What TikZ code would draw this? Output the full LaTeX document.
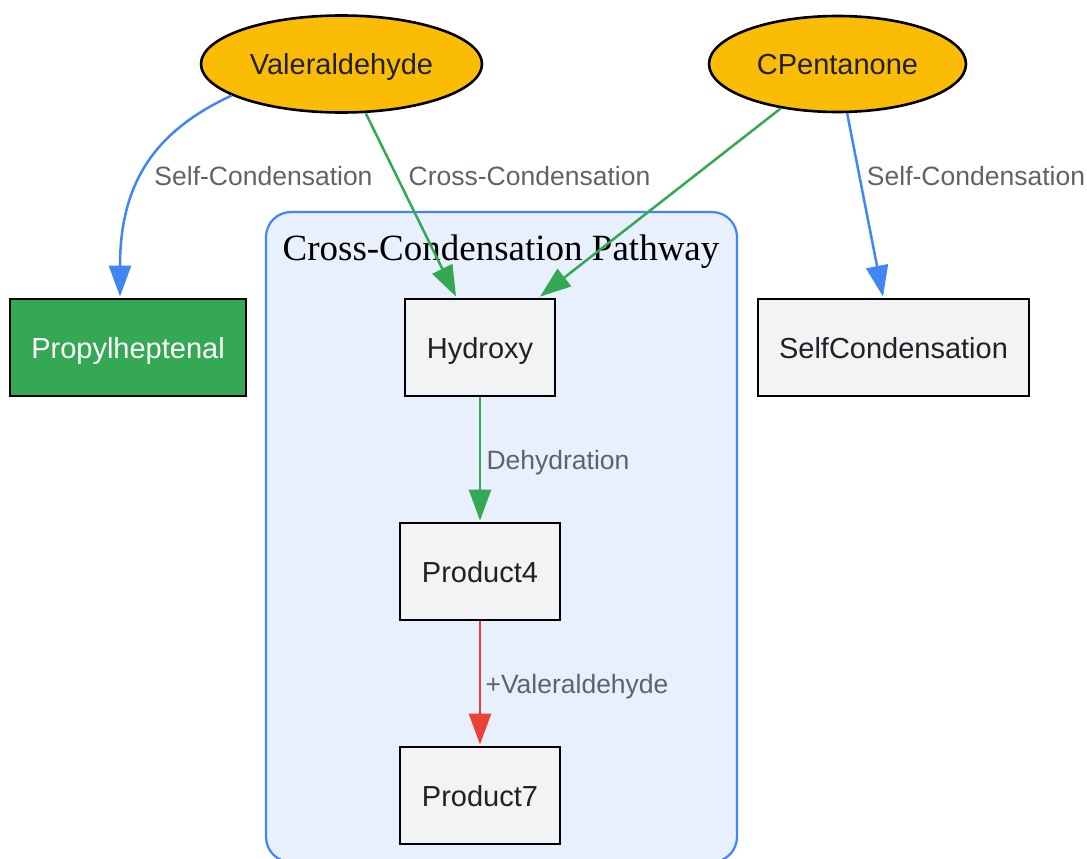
\documentclass[tikz,border=0pt]{standalone}
\usepackage{fontspec}
\setmainfont{Liberation Serif}
\newfontfamily\lsans{Liberation Sans}
\usetikzlibrary{arrows.meta,shapes.geometric}
\definecolor{gyellow}{HTML}{FBBC05}
\definecolor{ggreen}{HTML}{34A853}
\definecolor{gblue}{HTML}{4285F4}
\definecolor{gred}{HTML}{EA4335}
\definecolor{ggray}{HTML}{F1F3F4}
\definecolor{gtext}{HTML}{202124}
\definecolor{glabel}{HTML}{5F6368}
\definecolor{gcluster}{HTML}{E8F0FD}
\tikzset{
  src/.style={ellipse, draw=black, line width=2.6pt, fill=gyellow, inner sep=0pt,
    minimum width=281pt, minimum height=97pt, text=gtext, text height=21pt, text depth=0pt,
    font=\lsans\fontsize{29}{34}\selectfont},
  box/.style={rectangle, draw=black, line width=2.8pt, fill=ggray, inner sep=0pt,
    minimum height=97pt, text=gtext, text height=21pt, text depth=0pt,
    font=\lsans\fontsize{29}{34}\selectfont},
  elabel/.style={text=glabel, inner sep=0pt, anchor=base, font=\lsans\fontsize{26.5}{31}\selectfont},
  conn/.style={line width=2.5pt, -{Triangle[length=31pt,width=22pt]}},
}
\begin{document}
\begin{tikzpicture}[x=1pt,y=-1pt]
\useasboundingbox (0,0) rectangle (1087,859);
% cluster
\node[draw=gblue, line width=2.2pt, fill=gcluster, rounded corners=25pt, inner sep=0pt,
  minimum width=471pt, minimum height=650pt] (clu) at (501.5,537) {};
\node[anchor=base, inner sep=0pt, font=\fontsize{37}{44}\selectfont, text=black] (ttl) at (501,260) {Cross-Condensation Pathway};
% nodes
\node[src] (val) at (341.5,64) {Valeraldehyde};
\node[src, minimum width=257pt, minimum height=96pt] (cpe) at (837.5,64) {CPentanone};
\node[box, fill=ggreen, text=white, minimum width=236pt] (prop) at (128,347.5) {Propylheptenal};
\node[box, minimum width=150pt] (hyd) at (480,347.5) {Hydroxy};
\node[box, minimum width=271pt] (self) at (893.5,347.5) {SelfCondensation};
\node[box, minimum width=160pt] (p4) at (480,571.5) {Product4};
\node[box, minimum width=160pt] (p7) at (480,795.5) {Product7};
% edges
\draw[conn, gblue] (val.196) .. controls +(-73,34) and +(0,-118) .. ([xshift=-8pt,yshift=1pt]prop.north);
\draw[conn, ggreen] (val) -- ([xshift=-24pt,yshift=1pt]hyd.north);
\draw[conn, ggreen] (cpe) -- ([xshift=60pt,yshift=1pt]hyd.north);
\draw[conn, gblue] (cpe) -- ([xshift=-10.5pt,yshift=1pt]self.north);
\draw[conn, ggreen] (hyd) -- ([yshift=1pt]p4.north);
\draw[conn, gred] (p4) -- ([yshift=1pt]p7.north);
% labels
\node[elabel] (l1) at (263.5,185) {Self-Condensation};
\node[elabel] (l2) at (529.5,185) {Cross-Condensation};
\node[elabel] (l3) at (976,185) {Self-Condensation};
\node[elabel] (l4) at (558,469) {Dehydration};
\node[elabel] (l5) at (577,693) {+Valeraldehyde};
\end{tikzpicture}
\end{document}
